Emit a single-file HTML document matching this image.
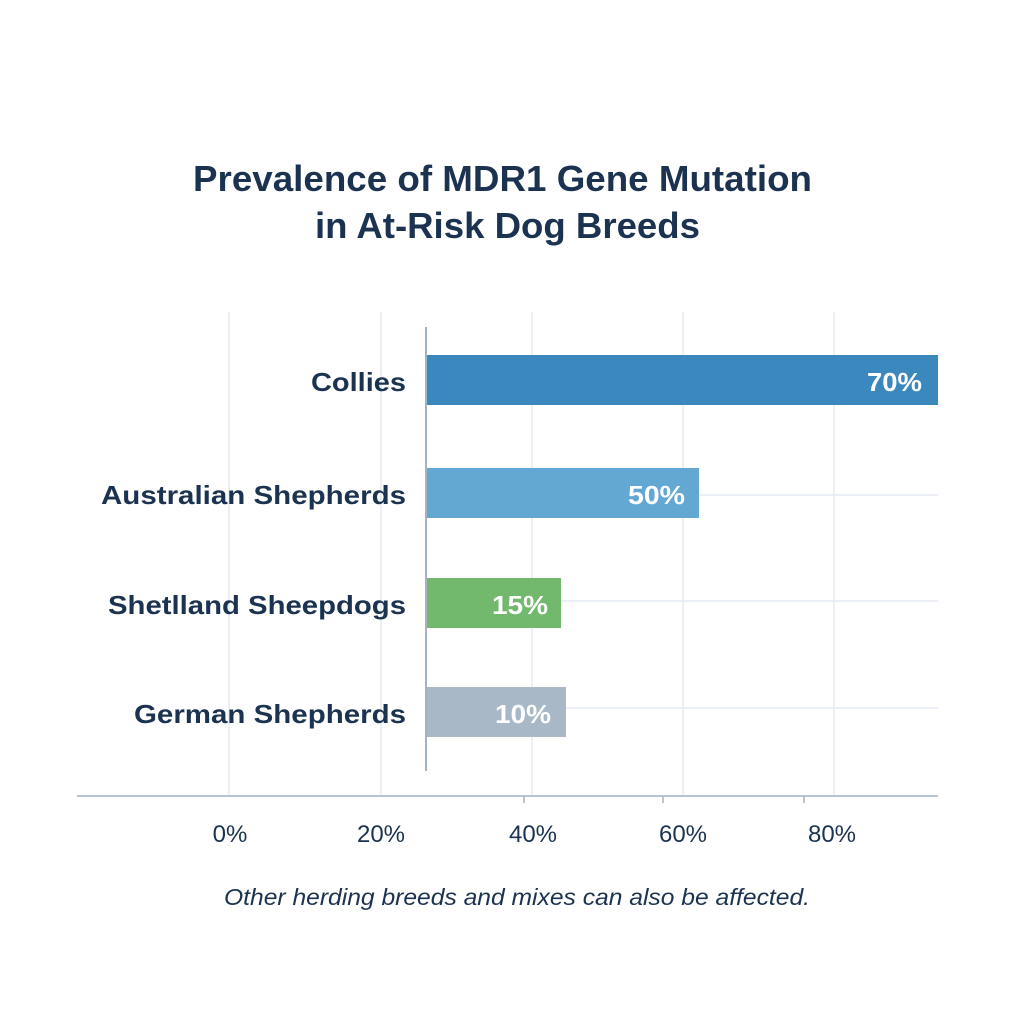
<!DOCTYPE html>
<html><head><style>
body{margin:0;background:#fff;}
svg{display:block;font-family:"Liberation Sans",sans-serif;}
</style></head><body>
<svg width="1024" height="1024" viewBox="0 0 1024 1024">
<rect width="1024" height="1024" fill="#fff"/>
<text x="193" y="191" font-size="36" font-weight="bold" fill="#1b3350" textLength="619" lengthAdjust="spacingAndGlyphs">Prevalence of MDR1 Gene Mutation</text>
<text x="315" y="238" font-size="36" font-weight="bold" fill="#1b3350" textLength="385" lengthAdjust="spacingAndGlyphs">in At-Risk Dog Breeds</text>
<g stroke="#e3ebf2" stroke-width="1.5">
<line x1="229" y1="312" x2="229" y2="796"/>
<line x1="381" y1="312" x2="381" y2="796"/>
<line x1="532" y1="312" x2="532" y2="796"/>
<line x1="683" y1="312" x2="683" y2="796"/>
<line x1="834" y1="312" x2="834" y2="796"/>
<line x1="699" y1="495" x2="938" y2="495"/>
<line x1="561" y1="601" x2="938" y2="601"/>
<line x1="566" y1="708" x2="938" y2="708"/>
</g>
<rect x="426" y="355" width="512" height="50" fill="#3a88bd"/>
<rect x="426" y="468" width="273" height="50" fill="#62a8d2"/>
<rect x="426" y="578" width="135" height="50" fill="#72b96e"/>
<rect x="426" y="687" width="140" height="50" fill="#a8b8c6"/>
<line x1="426" y1="327" x2="426" y2="771" stroke="#a3b3c4" stroke-width="2"/>
<line x1="77" y1="796" x2="938" y2="796" stroke="#b7c5d3" stroke-width="2"/>
<g stroke="#a3b3c4" stroke-width="1.5">
<line x1="524" y1="796" x2="524" y2="803"/>
<line x1="663" y1="796" x2="663" y2="803"/>
<line x1="804" y1="796" x2="804" y2="803"/>
</g>
<g font-size="26" font-weight="bold" fill="#fff">
<text x="867" y="391" textLength="55" lengthAdjust="spacingAndGlyphs">70%</text>
<text x="628" y="504" textLength="57" lengthAdjust="spacingAndGlyphs">50%</text>
<text x="492" y="614" textLength="56" lengthAdjust="spacingAndGlyphs">15%</text>
<text x="495" y="723" textLength="56" lengthAdjust="spacingAndGlyphs">10%</text>
</g>
<g font-size="26" font-weight="bold" fill="#1b3350">
<text x="311" y="391" textLength="95" lengthAdjust="spacingAndGlyphs">Collies</text>
<text x="101" y="504" textLength="305" lengthAdjust="spacingAndGlyphs">Australian Shepherds</text>
<text x="108" y="614" textLength="298" lengthAdjust="spacingAndGlyphs">Shetlland Sheepdogs</text>
<text x="134" y="723" textLength="272" lengthAdjust="spacingAndGlyphs">German Shepherds</text>
</g>
<g font-size="24" fill="#1b3350" text-anchor="middle">
<text x="230" y="842">0%</text>
<text x="381" y="842">20%</text>
<text x="533" y="842">40%</text>
<text x="683" y="842">60%</text>
<text x="832" y="842">80%</text>
</g>
<text x="224" y="905" font-size="23" font-style="italic" fill="#1b3350" textLength="586" lengthAdjust="spacingAndGlyphs">Other herding breeds and mixes can also be affected.</text>
</svg>
</body></html>
